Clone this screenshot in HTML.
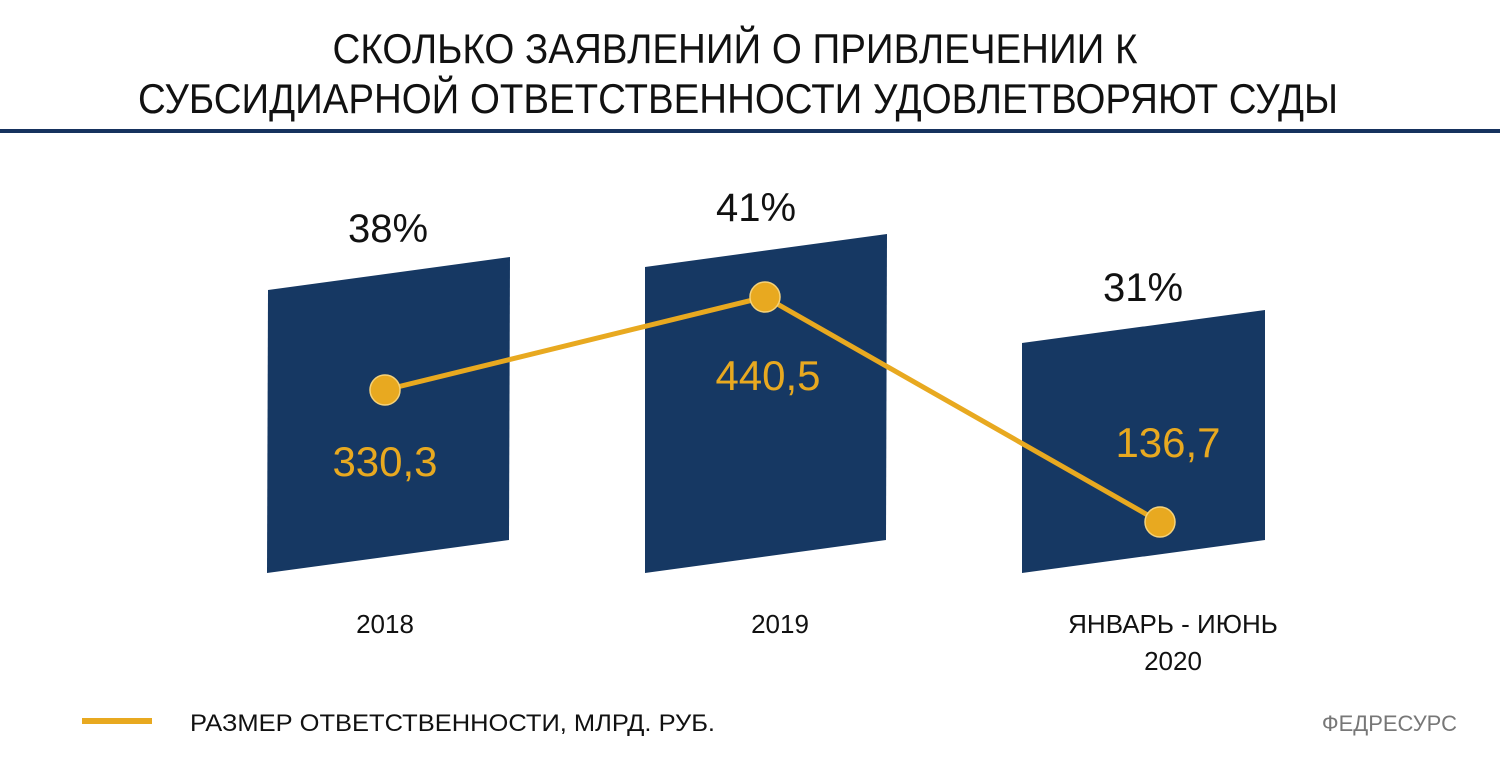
<!DOCTYPE html>
<html><head><meta charset="utf-8"><style>
body{margin:0;width:1500px;height:765px;background:#fff;overflow:hidden;font-family:"Liberation Sans",sans-serif}
</style></head><body>
<svg width="1500" height="765" xmlns="http://www.w3.org/2000/svg" font-family="Liberation Sans, sans-serif">
<text x="735" y="63" font-size="42" text-anchor="middle" textLength="805" lengthAdjust="spacingAndGlyphs" fill="#111">СКОЛЬКО ЗАЯВЛЕНИЙ О ПРИВЛЕЧЕНИИ К</text>
<text x="738" y="113" font-size="42" text-anchor="middle" textLength="1200" lengthAdjust="spacingAndGlyphs" fill="#111">СУБСИДИАРНОЙ ОТВЕТСТВЕННОСТИ УДОВЛЕТВОРЯЮТ СУДЫ</text>
<rect x="0" y="129" width="1500" height="4" fill="#16325e"/>
<polygon points="268,290 510,257 509,540 267,573" fill="#163863"/>
<polygon points="645,267 887,234 886,540 645,573" fill="#163863"/>
<polygon points="1022,343 1265,310 1265,540 1022,573" fill="#163863"/>
<text x="388" y="242" font-size="40" text-anchor="middle" fill="#111">38%</text>
<text x="756" y="221" font-size="40" text-anchor="middle" fill="#111">41%</text>
<text x="1143" y="301" font-size="40" text-anchor="middle" fill="#111">31%</text>
<polyline points="385,390 765,297 1160,522" fill="none" stroke="#e8a920" stroke-width="5"/>
<g fill="#e8a920" stroke="#f5d27a" stroke-width="1.5">
<circle cx="385" cy="390" r="15"/><circle cx="765" cy="297" r="15"/><circle cx="1160" cy="522" r="15"/></g>
<text x="385" y="476" font-size="42" text-anchor="middle" fill="#e8a920">330,3</text>
<text x="768" y="390" font-size="42" text-anchor="middle" fill="#e8a920">440,5</text>
<text x="1168" y="457" font-size="42" text-anchor="middle" fill="#e8a920">136,7</text>
<text x="385" y="633" font-size="26" text-anchor="middle" fill="#111">2018</text>
<text x="780" y="633" font-size="26" text-anchor="middle" fill="#111">2019</text>
<text x="1173" y="633" font-size="26" text-anchor="middle" fill="#111">ЯНВАРЬ - ИЮНЬ</text>
<text x="1173" y="670" font-size="26" text-anchor="middle" fill="#111">2020</text>
<rect x="82" y="718" width="70" height="6" fill="#e8a920"/>
<text x="190" y="731" font-size="24" fill="#111" textLength="525" lengthAdjust="spacingAndGlyphs">РАЗМЕР ОТВЕТСТВЕННОСТИ, МЛРД. РУБ.</text>
<text x="1457" y="731" font-size="22" text-anchor="end" fill="#777">ФЕДРЕСУРС</text>
</svg>
</body></html>
